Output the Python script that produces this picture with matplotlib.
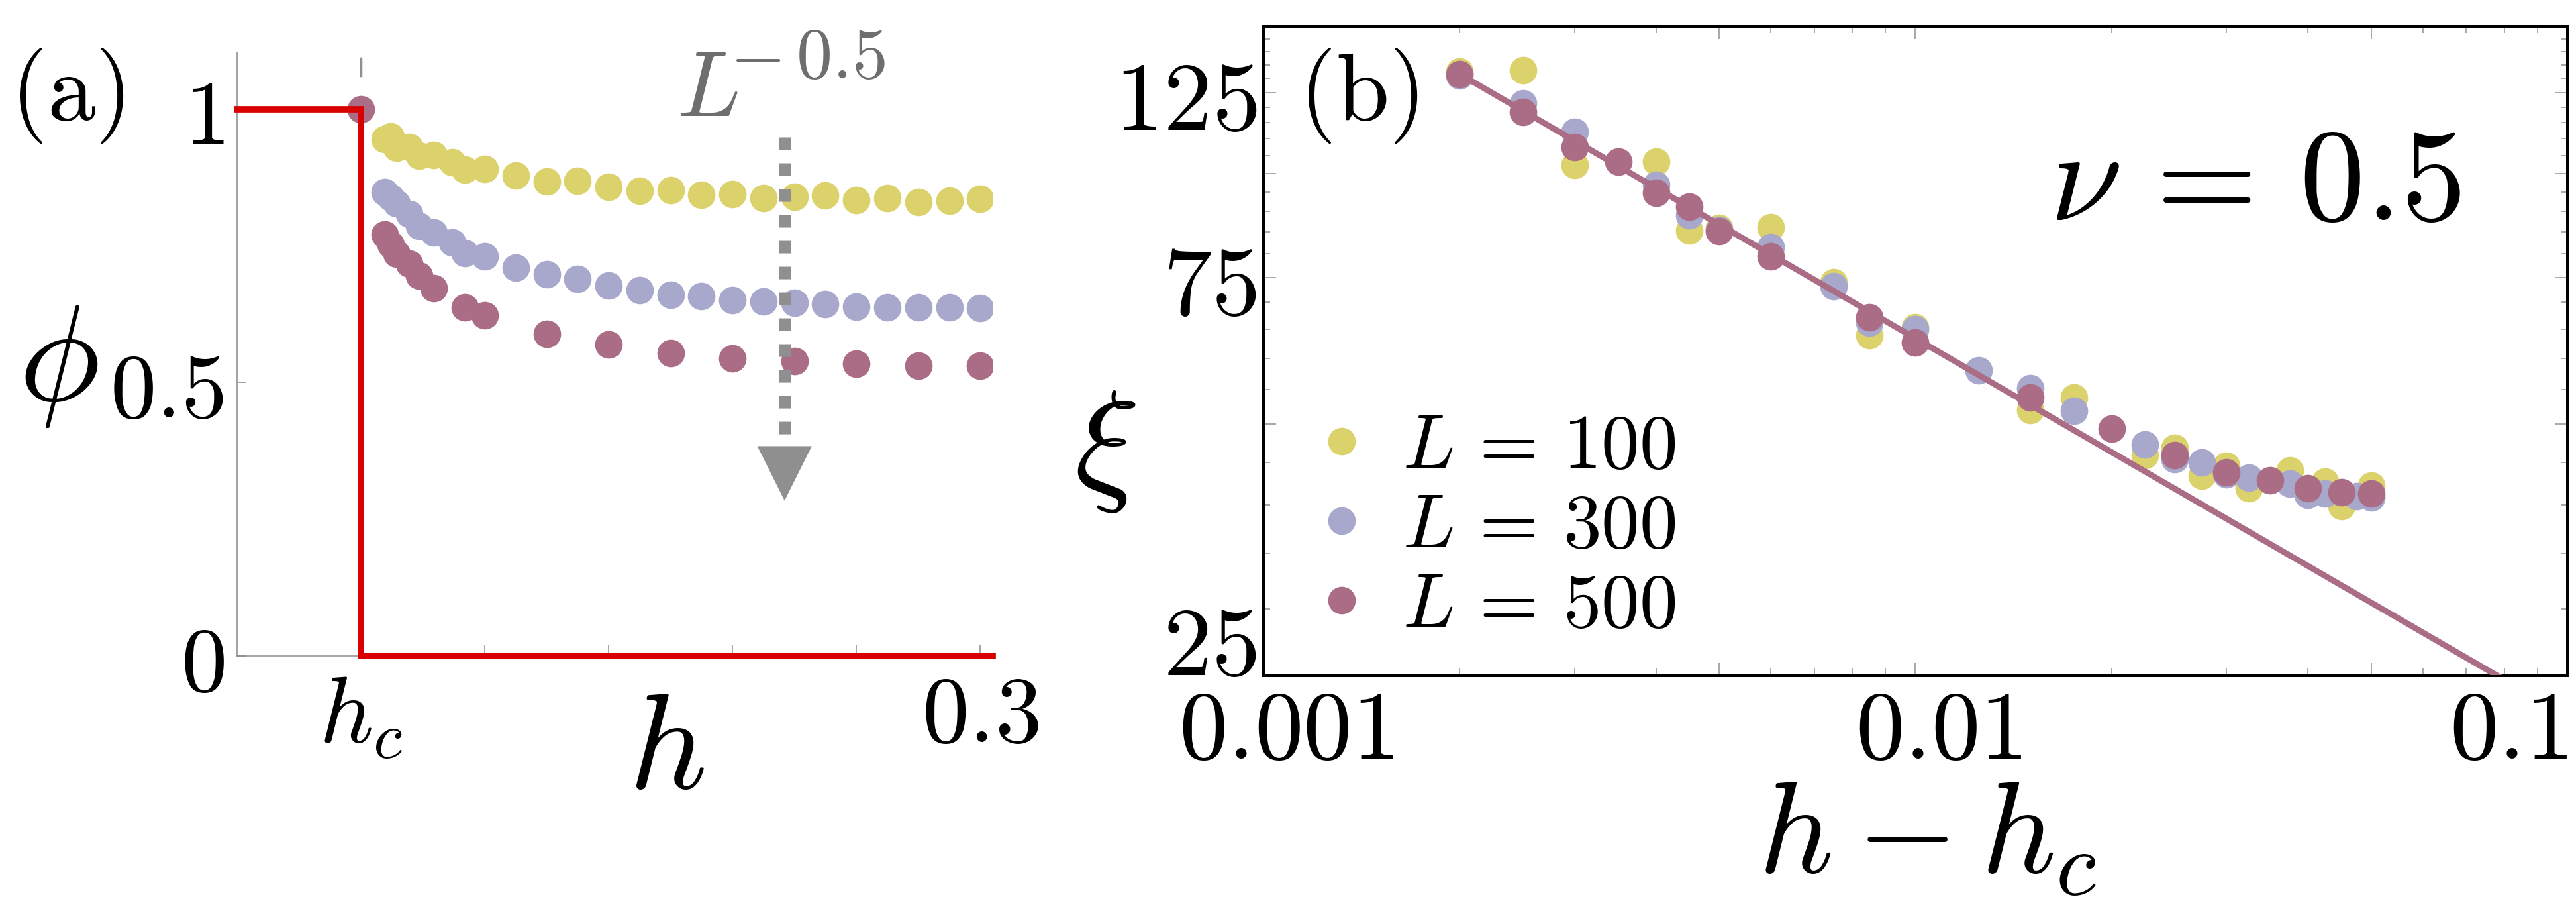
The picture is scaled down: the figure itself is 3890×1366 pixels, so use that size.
import numpy as np
import matplotlib
matplotlib.use('Agg')
import matplotlib.pyplot as plt
from matplotlib.ticker import FixedLocator, NullFormatter
from matplotlib.transforms import ScaledTranslation

plt.rcParams['mathtext.fontset'] = 'cm'
plt.rcParams['font.family'] = ['DejaVu Serif']

W, H = 3890, 1366

# ---------- data, panel (a) ----------
hc = 0.05
h_a100 = [0.0595, 0.062, 0.0645, 0.0695, 0.0735, 0.0795, 0.087, 0.092, 0.1,
          0.1125, 0.125, 0.1375, 0.15, 0.1625, 0.175, 0.1875, 0.2, 0.2125,
          0.225, 0.2375, 0.25, 0.2625, 0.275, 0.2875, 0.3]
phi_a100 = [0.945, 0.950, 0.930, 0.931, 0.915, 0.916, 0.903, 0.890, 0.891,
            0.879, 0.868, 0.869, 0.858, 0.851, 0.852, 0.844, 0.845, 0.837,
            0.840, 0.842, 0.834, 0.837, 0.830, 0.832, 0.836]
h_a300 = h_a100
phi_a300 = [0.848, 0.838, 0.828, 0.808, 0.786, 0.774, 0.756, 0.737, 0.731,
            0.710, 0.698, 0.689, 0.678, 0.669, 0.660, 0.658, 0.651, 0.648,
            0.646, 0.644, 0.639, 0.638, 0.638, 0.638, 0.636]
h_a500 = [0.05, 0.0595, 0.062, 0.0645, 0.0695, 0.0735, 0.0795, 0.092, 0.1,
          0.125, 0.15, 0.175, 0.2, 0.225, 0.25, 0.275, 0.3]
phi_a500 = [1.0, 0.771, 0.752, 0.735, 0.717, 0.695, 0.673, 0.638, 0.623,
            0.589, 0.570, 0.554, 0.544, 0.539, 0.535, 0.531, 0.531]
# mean-field step
step_h = [0.0, hc, hc, 0.305]
step_phi = [1.0, 1.0, 0.0, 0.0]
# arrow showing the L^-0.5 trend
arrow_h = 0.221
arrow_top, arrow_base, arrow_tip = 0.949, 0.384, 0.284

# ---------- data, panel (b) ----------
x_b100 = [0.002, 0.0025, 0.003, 0.004, 0.0045, 0.005, 0.006, 0.0075, 0.0085,
          0.01, 0.015, 0.0175, 0.0225, 0.025, 0.0275, 0.03, 0.0325, 0.0375,
          0.04, 0.0425, 0.045, 0.05]
xi_b100 = [132.5, 132.9, 102.4, 103.3, 85.3, 86.0, 86.2, 74.0, 63.9,
           65.3, 52.0, 53.8, 45.9, 46.8, 43.4, 44.6, 41.9, 44.0,
           41.2, 42.7, 39.9, 42.2]
x_b300 = [0.002, 0.0025, 0.003, 0.004, 0.0045, 0.005, 0.006, 0.0075, 0.0085,
          0.01, 0.0125, 0.015, 0.0175, 0.0225, 0.025, 0.0275, 0.03, 0.0325,
          0.0375, 0.04, 0.0425, 0.0475, 0.05]
xi_b300 = [131.0, 121.3, 112.2, 96.8, 89.0, 85.5, 81.5, 73.2, 66.2,
           65.0, 58.0, 55.2, 51.9, 47.3, 45.4, 45.0, 43.5, 43.1,
           42.4, 41.1, 41.3, 41.0, 40.8]
x_b500 = [0.002, 0.0025, 0.003, 0.0035, 0.004, 0.0045, 0.005, 0.006, 0.0085,
          0.01, 0.015, 0.02, 0.025, 0.03, 0.035, 0.04, 0.045, 0.05]
xi_b500 = [131.5, 118.4, 107.6, 103.2, 94.8, 91.2, 85.2, 79.5, 67.2,
           62.6, 53.8, 49.4, 45.9, 43.75, 42.8, 41.9, 41.4, 41.3]
# power-law fit drawn through the data
fit_h = np.array([0.002, 0.1])
fit_xi = 131.5 * (fit_h / 0.002) ** (-0.4535)

c100 = '#dcd26b'
c300 = '#a8a8cc'
c500 = '#aa6d85'
red = '#d90000'
gray = '#8f8f8f'


def fpos(x, y):
    # pixel position -> figure fraction
    return x / W, 1 - y / H


fig = plt.figure(figsize=(W / 100, H / 100), dpi=100)

# ================= panel (a) =================
ax1 = fig.add_axes([358 / W, 1 - 990 / H, (1499 - 358) / W, (990 - 79) / H])
ax1.set_xlim(0, 0.305)
ax1.set_ylim(0, 1.104)
for s in ['top', 'right']:
    ax1.spines[s].set_visible(False)
for s in ['left', 'bottom']:
    ax1.spines[s].set_color('#8c8c8c')
    ax1.spines[s].set_linewidth(1.1)

ms = 30
ax1.plot(h_a100, phi_a100, 'o', ms=ms, color=c100, mec='none', zorder=2)
ax1.plot(h_a300, phi_a300, 'o', ms=ms, color=c300, mec='none', zorder=2)
ax1.plot(h_a500, phi_a500, 'o', ms=ms, color=c500, mec='none', zorder=2)
ax1.plot(step_h, step_phi, color=red, lw=7, clip_on=False, zorder=4,
         solid_joinstyle='miter')
ax1.plot([hc, hc], [1.062, 1.093], color=gray, lw=2.5, zorder=3)

ax1.plot([arrow_h, arrow_h], [arrow_top, arrow_base + 0.02], color=gray,
         lw=13.7, dashes=(1.0, 1.05), solid_capstyle='butt',
         dash_capstyle='butt', zorder=3)
ax1.annotate('', xy=(arrow_h, arrow_tip), xytext=(arrow_h, arrow_base),
             arrowprops=dict(arrowstyle='-|>,head_length=0.4,head_width=0.2',
                             mutation_scale=148, color=gray, lw=0,
                             shrinkA=0, shrinkB=0), zorder=3)

ax1.set_yticks([0, 0.5, 1])
ax1.set_yticklabels(['$0$', '$0.5$', '$1$'])
ax1.set_xticks([hc, 0.1, 0.15, 0.2, 0.25, 0.3])
ax1.set_xticklabels(['$h_c$', '', '', '', '', '$0.3$'])
ax1.tick_params(axis='y', direction='in', length=9, width=1.1,
                color='#8c8c8c', labelsize=100, pad=14)
ax1.tick_params(axis='x', direction='in', length=11.5, width=1.1,
                color='#8c8c8c', labelsize=102, pad=16)

fig.text(*fpos(15, 70), r'$\mathrm{(a)}$', ha='left', va='top', fontsize=104)
fig.text(*fpos(88, 548), r'$\phi$', ha='center', va='center', fontsize=148)
fig.text(*fpos(1006, 1133), r'$h$', ha='center', va='center', fontsize=148)
fig.text(*fpos(1022, 175), r'$L$', ha='left', va='baseline',
         fontsize=101, color='#6e6e6e')
fig.text(*fpos(1102, 118), r'$-\,0.5$', ha='left', va='baseline',
         fontsize=78, color='#6e6e6e')

# ================= panel (b) =================
ax2 = fig.add_axes([1908 / W, 1 - 1019 / H, (3877 - 1908) / W, (1019 - 40) / H])
ax2.set_xscale('log')
ax2.set_yscale('log')

ax2.plot(x_b100, xi_b100, 'o', ms=ms, color=c100, mec='none',
         label=r'$L\,=\,100$', zorder=2)
ax2.plot(x_b300, xi_b300, 'o', ms=ms, color=c300, mec='none',
         label=r'$L\,=\,300$', zorder=2)
ax2.plot(x_b500, xi_b500, 'o', ms=ms, color=c500, mec='none',
         label=r'$L\,=\,500$', zorder=2)
ax2.plot(fit_h, fit_xi, color=c500, lw=6.5, zorder=3)
ax2.set_xlim(0.001, 0.1)
ax2.set_ylim(25, 150)

for s in ax2.spines.values():
    s.set_color('black')
    s.set_linewidth(3.6)

ax2.xaxis.set_major_locator(FixedLocator([0.001, 0.005, 0.01, 0.05, 0.1]))
ax2.xaxis.set_minor_locator(FixedLocator(
    [m * 1e-3 for m in (2, 3, 4, 6, 7, 8, 9)] + [m * 1e-2 for m in (2, 3, 4, 6, 7, 8, 9)]))
ax2.set_xticklabels(['$0.001$', '', '$0.01$', '', '$0.1$'])
ax2.xaxis.set_minor_formatter(NullFormatter())
ax2.yaxis.set_major_locator(FixedLocator([25, 50, 75, 100, 125, 150]))
ax2.yaxis.set_minor_locator(FixedLocator([v for v in range(30, 150, 5) if v % 25]))
ax2.set_yticklabels(['$25$', '', '$75$', '', '$125$', ''])
ax2.yaxis.set_minor_formatter(NullFormatter())

ax2.tick_params(which='both', direction='in', top=True, right=True,
                color='#a8a8a8', width=1.4)
ax2.tick_params(which='major', length=14)
ax2.tick_params(which='minor', length=7.5)
ax2.tick_params(axis='x', which='major', labelsize=106, pad=10)
ax2.tick_params(axis='y', which='major', labelsize=106, pad=7)

xl = ax2.get_xticklabels()
shift = ScaledTranslation(0.35, 0, fig.dpi_scale_trans)
xl[0].set_transform(xl[0].get_transform() + shift)
xl[2].set_transform(xl[2].get_transform() + shift)
xl[4].set_ha('right')
ax2.get_yticklabels()[0].set_va('baseline')

ax2.legend(loc='upper left', bbox_to_anchor=(0.0305, 0.4076), frameon=False,
           fontsize=83, handlelength=1.0, handletextpad=0.3, borderpad=0,
           borderaxespad=0, labelspacing=0.08, numpoints=1)

fig.text(*fpos(1961, 70), r'$\mathrm{(b)}$', ha='left', va='top', fontsize=104)
fig.text(*fpos(1669, 677), r'$\xi$', ha='center', va='center', fontsize=148)
fig.text(*fpos(2911, 1318), r'$h - h_c$', ha='center', va='baseline', fontsize=142)
fig.text(*fpos(3095, 332), r'$\nu\,=\,0.5$', ha='left', va='baseline', fontsize=142)

fig.savefig('out.png', dpi=100)
